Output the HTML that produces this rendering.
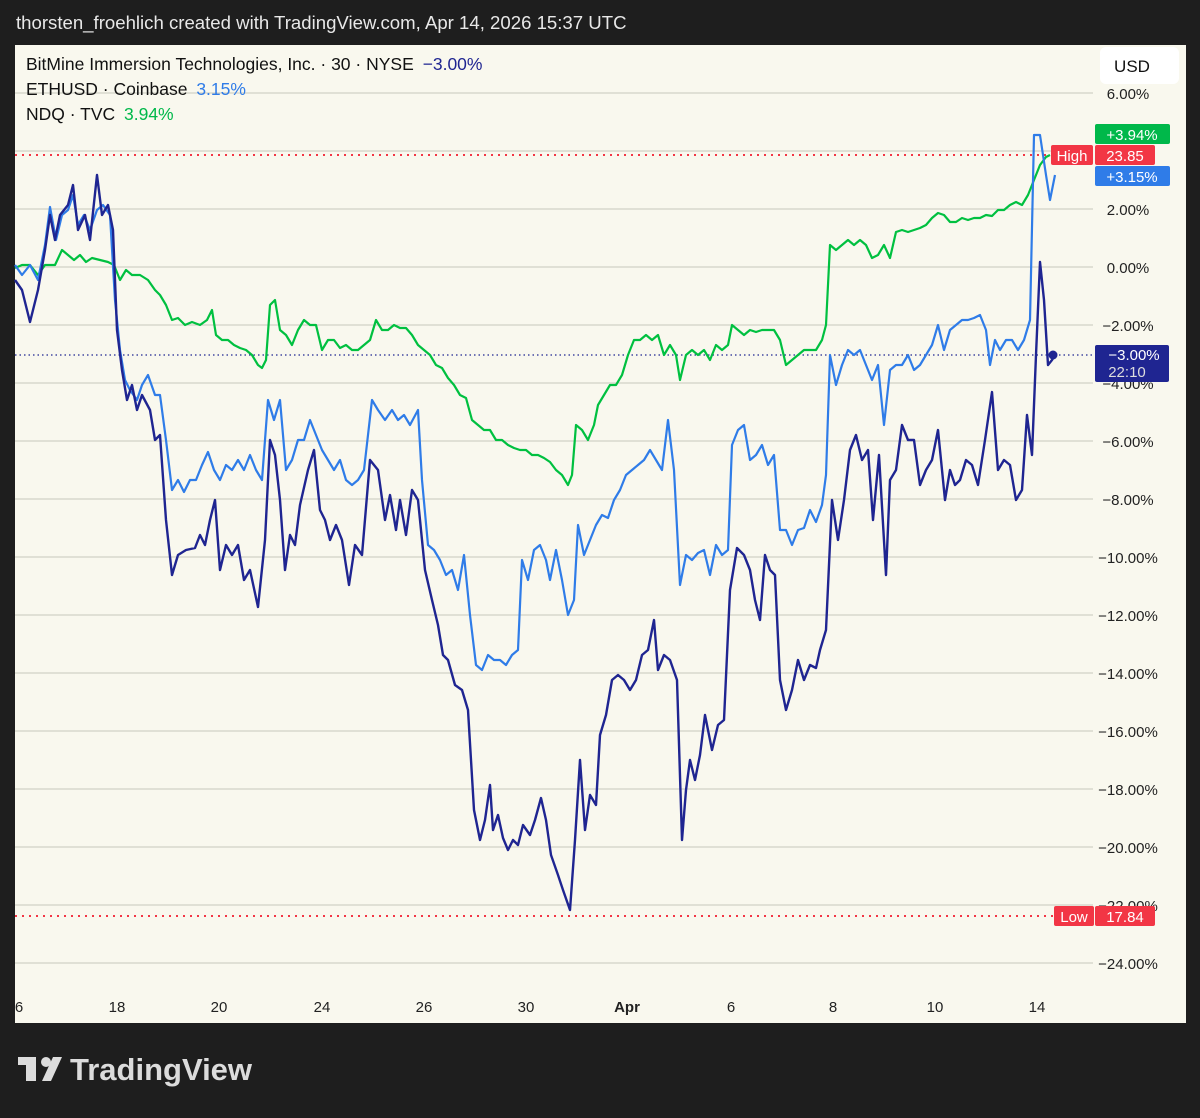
<!DOCTYPE html>
<html><head><meta charset="utf-8"><style>
body{margin:0;width:1200px;height:1113px;background:#1e1e1e;overflow:hidden;font-family:"Liberation Sans",sans-serif}
</style></head><body>
<svg width="1200" height="1113" xmlns="http://www.w3.org/2000/svg" font-family="Liberation Sans, sans-serif">
<rect width="1200" height="1113" fill="#1e1e1e"/>
<text x="16" y="29" font-size="18.6" fill="#e8e8e8">thorsten_froehlich created with TradingView.com, Apr 14, 2026 15:37 UTC</text>
<rect x="15" y="45" width="1171" height="978" fill="#f9f8ee"/>
<g stroke="#c8c8bc" stroke-width="1">
<line x1="15" x2="1093" y1="93" y2="93"/><line x1="15" x2="1093" y1="151" y2="151"/><line x1="15" x2="1093" y1="209" y2="209"/><line x1="15" x2="1093" y1="267" y2="267"/><line x1="15" x2="1093" y1="325" y2="325"/><line x1="15" x2="1093" y1="383" y2="383"/><line x1="15" x2="1093" y1="441" y2="441"/><line x1="15" x2="1093" y1="499" y2="499"/><line x1="15" x2="1093" y1="557" y2="557"/><line x1="15" x2="1093" y1="615" y2="615"/><line x1="15" x2="1093" y1="673" y2="673"/><line x1="15" x2="1093" y1="731" y2="731"/><line x1="15" x2="1093" y1="789" y2="789"/><line x1="15" x2="1093" y1="847" y2="847"/><line x1="15" x2="1093" y1="905" y2="905"/><line x1="15" x2="1093" y1="963" y2="963"/>
</g>
<g font-size="15" fill="#222" text-anchor="middle">
<text x="1128" y="99">6.00%</text><text x="1128" y="215">2.00%</text><text x="1128" y="273">0.00%</text><text x="1128" y="331">−2.00%</text><text x="1128" y="389">−4.00%</text><text x="1128" y="447">−6.00%</text><text x="1128" y="505">−8.00%</text><text x="1128" y="563">−10.00%</text><text x="1128" y="621">−12.00%</text><text x="1128" y="679">−14.00%</text><text x="1128" y="737">−16.00%</text><text x="1128" y="795">−18.00%</text><text x="1128" y="853">−20.00%</text><text x="1128" y="911">−22.00%</text><text x="1128" y="969">−24.00%</text>
</g>
<g font-size="15" fill="#222" text-anchor="middle">
<text x="19" y="1012">6</text><text x="117" y="1012">18</text><text x="219" y="1012">20</text><text x="322" y="1012">24</text><text x="424" y="1012">26</text><text x="526" y="1012">30</text><text x="627" y="1012" font-weight="bold">Apr</text><text x="731" y="1012">6</text><text x="833" y="1012">8</text><text x="935" y="1012">10</text><text x="1037" y="1012">14</text>
</g>
<line x1="15" x2="1050" y1="155" y2="155" stroke="#f23645" stroke-width="2" stroke-dasharray="2,5"/>
<line x1="15" x2="1055" y1="916" y2="916" stroke="#f23645" stroke-width="2" stroke-dasharray="2,5"/>
<line x1="15" x2="1093" y1="355" y2="355" stroke="#1f2591" stroke-width="1.3" stroke-dasharray="1.5,3"/>
<polyline fill="none" stroke="#00c040" stroke-width="2.2" stroke-linejoin="round" points="15,268 22,265 30,265 38,275 45,265 50,265 55,265 62,250 68,255 74,260 80,255 86,262 92,258 100,260 108,262 114,265 120,280 126,270 132,275 140,275 148,280 155,290 160,295 166,305 172,320 178,318 185,325 192,322 200,325 207,320 212,310 216,335 222,340 228,340 234,345 240,348 246,350 252,355 258,365 262,368 266,360 270,305 275,300 280,330 286,335 292,345 298,330 304,320 310,325 316,325 322,350 328,340 334,340 340,348 346,345 352,350 358,350 364,345 370,340 376,320 382,330 388,330 394,325 400,328 406,328 412,335 418,345 424,350 430,355 436,365 442,368 448,378 454,385 460,395 466,398 472,420 478,425 484,430 490,430 496,440 502,440 508,445 514,448 520,450 526,450 532,455 538,455 544,458 550,462 556,470 562,475 568,485 572,475 576,425 582,430 588,440 594,425 598,405 604,395 610,385 616,385 622,375 628,355 634,340 640,340 646,335 652,340 658,335 664,355 670,345 676,355 680,380 686,355 692,350 698,355 704,350 710,360 716,345 722,350 728,345 732,325 738,330 744,335 750,330 756,332 762,330 768,330 774,330 780,340 786,365 792,360 798,355 804,350 810,350 816,350 822,340 826,325 830,245 836,250 842,245 848,240 854,245 860,240 866,245 872,258 878,255 884,245 890,258 896,232 902,230 908,232 914,230 920,228 926,225 932,218 938,213 944,215 950,222 956,222 962,218 968,220 974,218 980,218 986,215 992,216 998,210 1004,210 1010,205 1016,202 1022,205 1028,195 1034,180 1040,165 1046,157 1050,155"/>
<polyline fill="none" stroke="#2f7ce8" stroke-width="2.2" stroke-linejoin="round" points="15,265 22,275 30,265 38,280 45,245 50,207 56,240 62,215 68,210 73,195 78,225 84,215 90,230 97,210 103,205 110,215 115,300 120,350 125,380 130,390 137,400 142,385 148,375 155,395 160,395 166,440 172,490 178,480 184,492 190,480 196,480 202,465 208,452 214,470 220,480 226,465 232,470 238,460 244,470 250,455 256,470 262,480 268,400 274,420 280,400 286,470 292,460 298,440 304,440 310,420 316,435 322,450 328,460 334,470 340,460 346,480 352,485 358,480 364,470 372,400 378,410 385,420 392,410 398,420 404,415 410,425 418,410 422,480 428,545 434,550 440,560 446,575 452,570 458,590 464,555 470,615 476,665 482,670 488,655 494,660 500,660 506,665 512,655 518,650 522,560 528,580 534,550 540,545 546,560 550,580 556,550 562,580 568,615 574,600 578,525 584,555 590,540 596,525 602,515 608,518 614,500 620,490 626,475 632,470 638,465 644,460 650,450 656,460 662,470 668,420 674,470 680,585 686,555 692,560 698,553 704,550 710,575 716,545 722,555 728,550 732,445 738,430 744,425 750,460 756,455 762,445 768,465 774,455 780,530 786,530 792,545 798,530 804,528 810,510 816,522 822,505 826,475 830,355 836,385 842,365 848,350 854,355 860,350 866,365 872,380 878,365 884,425 890,370 896,365 902,365 908,355 914,370 920,365 926,355 932,345 938,325 944,350 950,330 956,325 962,320 968,320 974,318 980,315 986,330 990,365 995,340 1000,350 1006,340 1012,340 1018,350 1024,340 1030,320 1034,135 1040,135 1046,175 1050,200 1055,175"/>
<polyline fill="none" stroke="#1f2591" stroke-width="2.4" stroke-linejoin="round" points="15,280 22,290 30,322 38,290 45,250 50,215 55,240 60,215 68,205 73,185 78,230 85,215 90,240 97,175 102,215 108,205 113,230 117,330 122,370 127,400 132,385 137,410 142,395 150,410 155,440 160,435 166,520 172,575 178,555 186,550 195,548 200,535 205,545 210,520 215,500 220,570 226,545 232,555 238,545 244,580 250,570 258,607 265,540 270,440 275,455 280,500 285,570 290,535 295,545 300,505 308,470 314,450 320,510 325,520 330,540 336,525 342,540 349,585 355,545 362,555 370,460 378,470 385,520 390,495 396,530 400,500 406,535 412,490 418,500 425,570 432,600 438,625 443,655 448,660 455,685 462,690 468,710 474,810 480,840 485,820 490,785 493,830 498,815 503,838 508,850 513,840 518,845 523,825 530,835 535,820 541,798 546,820 551,855 558,875 563,890 570,910 575,840 580,760 585,830 590,795 596,805 600,735 606,715 612,680 618,675 624,680 630,690 636,680 642,655 648,650 654,620 658,670 664,655 670,660 677,680 682,840 686,790 690,760 695,780 700,755 705,715 712,750 718,725 724,720 730,590 737,548 744,555 750,570 755,600 760,620 765,555 770,570 775,575 780,680 786,710 792,690 798,660 804,680 810,665 816,668 820,650 826,630 832,500 838,540 844,500 850,450 856,435 862,460 868,450 873,520 879,455 886,575 890,480 896,470 902,425 908,440 914,440 920,485 926,470 932,460 938,430 945,500 950,470 955,485 960,480 966,460 972,465 978,485 985,440 992,392 998,470 1004,460 1010,465 1016,500 1022,490 1027,415 1032,455 1036,355 1040,262 1044,300 1048,365 1052,360 1055,355"/>
<circle cx="1053" cy="355" r="4.5" fill="#1f2591"/>
<rect x="1100" y="47" width="79" height="37" rx="6" fill="#fff"/>
<text x="1132" y="72" font-size="17" fill="#111" text-anchor="middle">USD</text>
<rect x="1095" y="124" width="75" height="20" rx="2" fill="#00b84a"/>
<text x="1132" y="140" font-size="15" fill="#fff" text-anchor="middle">+3.94%</text>
<rect x="1051" y="145" width="42" height="20" rx="2" fill="#f23645"/>
<text x="1072" y="161" font-size="15" fill="#fff" text-anchor="middle">High</text>
<rect x="1095" y="145" width="60" height="20" rx="2" fill="#f23645"/>
<text x="1125" y="161" font-size="15" fill="#fff" text-anchor="middle">23.85</text>
<rect x="1095" y="166" width="75" height="20" rx="2" fill="#2f7ce8"/>
<text x="1132" y="182" font-size="15" fill="#fff" text-anchor="middle">+3.15%</text>
<rect x="1095" y="345" width="74" height="37" rx="2" fill="#1f2591"/>
<text x="1134" y="360" font-size="15" fill="#fff" text-anchor="middle">−3.00%</text>
<text x="1127" y="377" font-size="15" fill="#ddd" text-anchor="middle">22:10</text>
<rect x="1054" y="906" width="40" height="20" rx="2" fill="#f23645"/>
<text x="1074" y="922" font-size="15" fill="#fff" text-anchor="middle">Low</text>
<rect x="1095" y="906" width="60" height="20" rx="2" fill="#f23645"/>
<text x="1125" y="922" font-size="15" fill="#fff" text-anchor="middle">17.84</text>
<text x="26" y="70" font-size="17.5" fill="#111">BitMine Immersion Technologies, Inc. · 30 · NYSE <tspan fill="#1f2591" dx="4">−3.00%</tspan></text>
<text x="26" y="95" font-size="17.5" fill="#111">ETHUSD · Coinbase <tspan fill="#2f7ce8" dx="4">3.15%</tspan></text>
<text x="26" y="120" font-size="17.5" fill="#111">NDQ · TVC <tspan fill="#00b84a" dx="4">3.94%</tspan></text>
<g fill="#dcdcdc">
<rect x="18" y="1057" width="18" height="8"/><rect x="26" y="1057" width="10" height="24"/>
<circle cx="46" cy="1062" r="5"/><polygon points="53,1057 62,1057 51,1081 42,1081"/>
</g>
<text x="70" y="1080" font-size="31" font-weight="bold" fill="#dcdcdc">TradingView</text>
</svg>
</body></html>
